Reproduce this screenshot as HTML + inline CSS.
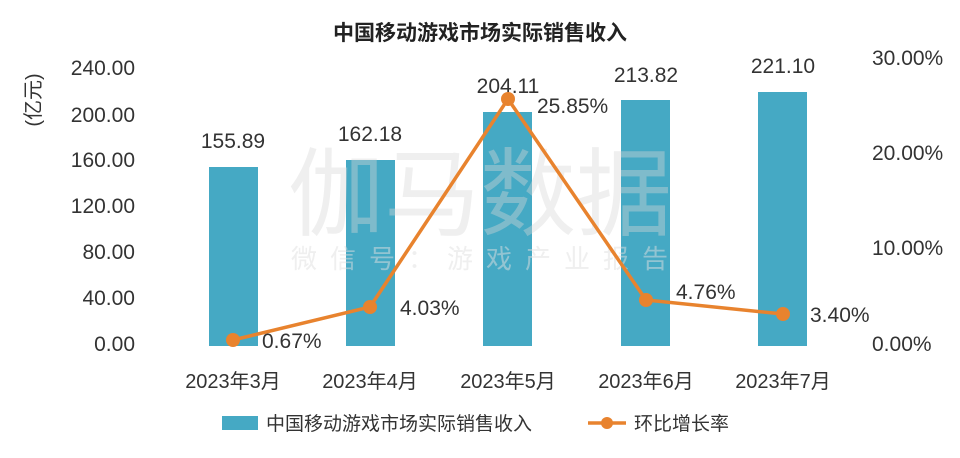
<!DOCTYPE html>
<html><head><meta charset="utf-8"><style>
body{margin:0;background:#fff;}
svg text{font-family:"Liberation Sans","Noto Sans CJK SC",sans-serif;}
</style></head><body>
<svg width="960" height="453" xmlns="http://www.w3.org/2000/svg">
<rect width="960" height="453" fill="#fff"/>
<text x="480" y="40" text-anchor="middle" font-size="21" font-weight="bold" fill="#222">中国移动游戏市场实际销售收入</text>
<g font-size="21" fill="#333" text-anchor="end">
<text x="135" y="75">240.00</text>
<text x="135" y="122">200.00</text>
<text x="135" y="167">160.00</text>
<text x="135" y="213">120.00</text>
<text x="135" y="259">80.00</text>
<text x="135" y="305">40.00</text>
<text x="135" y="351">0.00</text>
</g>
<text transform="translate(40,100) rotate(-90)" text-anchor="middle" font-size="20" fill="#333">(亿元)</text>
<g font-size="21" fill="#333" text-anchor="start">
<text x="872" y="65">30.00%</text>
<text x="872" y="160">20.00%</text>
<text x="872" y="255">10.00%</text>
<text x="872" y="351">0.00%</text>
</g>
<g fill="#45a9c4">
<rect x="209" y="167" width="49" height="179"/>
<rect x="346" y="160" width="49" height="186"/>
<rect x="483" y="112" width="49" height="234"/>
<rect x="621" y="100" width="49" height="246"/>
<rect x="758" y="92" width="49" height="254"/>
</g>
<text x="480" y="228" text-anchor="middle" font-size="96" fill="#d8d8d8" fill-opacity="0.4">伽马数据</text>
<text x="486" y="268" text-anchor="middle" font-size="26" fill="#e0e0e0" fill-opacity="0.5" letter-spacing="13">微信号：游戏产业报告</text>
<g font-size="21" fill="#333" text-anchor="middle">
<text x="233" y="148">155.89</text>
<text x="370" y="141">162.18</text>
<text x="508" y="93">204.11</text>
<text x="646" y="82">213.82</text>
<text x="783" y="73">221.10</text>
</g>
<polyline points="233,340 370,307 508,99 646,300 783,314" fill="none" stroke="#e8832e" stroke-width="3.5"/>
<g fill="#e8832e">
<circle cx="233" cy="340" r="7"/><circle cx="370" cy="307" r="7"/><circle cx="508" cy="99" r="7"/><circle cx="646" cy="300" r="7"/><circle cx="783" cy="314" r="7"/>
</g>
<g font-size="21" fill="#333">
<text x="262" y="348">0.67%</text>
<text x="400" y="315">4.03%</text>
<text x="537" y="113">25.85%</text>
<text x="676" y="299">4.76%</text>
<text x="810" y="322">3.40%</text>
</g>
<g font-size="20" fill="#333" text-anchor="middle">
<text x="233" y="388">2023年3月</text>
<text x="370" y="388">2023年4月</text>
<text x="508" y="388">2023年5月</text>
<text x="646" y="388">2023年6月</text>
<text x="783" y="388">2023年7月</text>
</g>
<rect x="222" y="416" width="36" height="14" fill="#45a9c4"/>
<text x="266" y="430" font-size="19" fill="#333">中国移动游戏市场实际销售收入</text>
<line x1="588" y1="423" x2="626" y2="423" stroke="#e8832e" stroke-width="3.5"/>
<circle cx="607" cy="423" r="6" fill="#e8832e"/>
<text x="634" y="430" font-size="19" fill="#333">环比增长率</text>
</svg>
</body></html>
